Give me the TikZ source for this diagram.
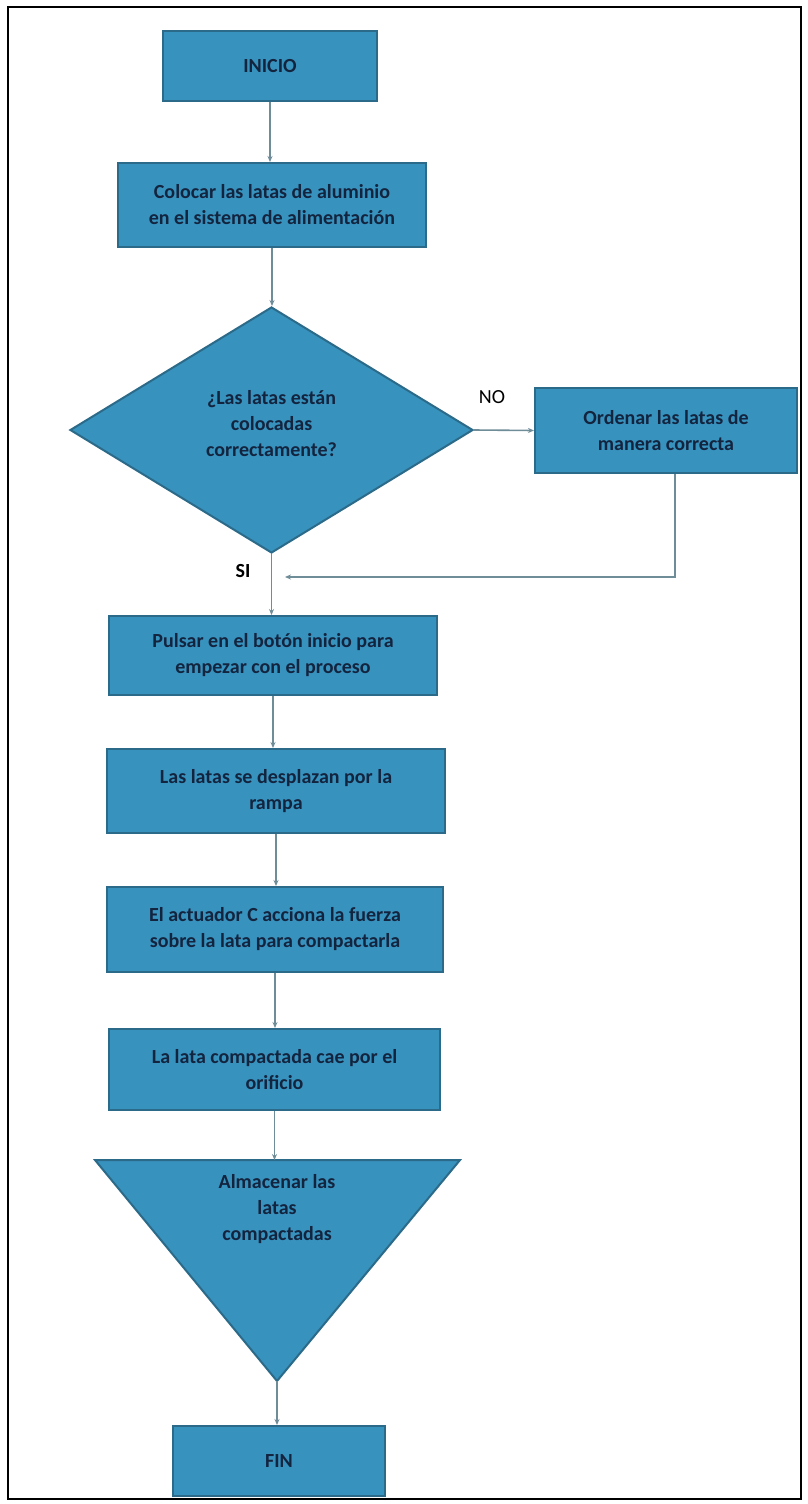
\documentclass[tikz,border=0pt]{standalone}
\usepackage{fontspec}
\setmainfont{Carlito}
\usetikzlibrary{shapes.geometric,arrows.meta,calc}
\definecolor{boxfill}{HTML}{3892BE}
\definecolor{boxdraw}{HTML}{2B6A88}
\definecolor{txt}{HTML}{13243F}
\definecolor{conn}{HTML}{6F8C99}
\tikzset{
  stepbox/.style={rectangle, draw=boxdraw, line width=2pt, fill=boxfill, text=txt,
    font=\fontsize{20}{26}\selectfont\bfseries, align=center, inner sep=0pt},
  decis/.style={diamond, draw=boxdraw, line width=2pt, fill=boxfill, inner sep=0pt},
  boxtext/.style={text=txt, font=\fontsize{20}{26}\selectfont\bfseries, align=center},
  arr/.style={draw=conn, line width=1.6pt, -{Stealth[length=6pt,width=5pt]}},
  lbl/.style={font=\fontsize{20}{26}\selectfont, text=black}
}
\begin{document}
\begin{tikzpicture}[x=1pt,y=-1pt]
\useasboundingbox (0,0) rectangle (808,1504);
\fill[white] (0,0) rectangle (808,1504);
\draw[black, line width=2.8pt] (8,7) rectangle (801,1499);

\node[stepbox, minimum width=214pt, minimum height=70pt] (inicio) at (270,66) {INICIO};
\node[stepbox, minimum width=308pt, minimum height=84pt] (colocar) at (272,205) {Colocar las latas de aluminio\\en el sistema de alimentación};
\node[decis, minimum width=403pt, minimum height=246pt] (dec) at (271.5,430) {};
\node[boxtext] (dectext) at (271.5,424) {¿Las latas están\\colocadas\\correctamente?};
\node[stepbox, minimum width=262pt, minimum height=85pt] (ordenar) at (666,430.5) {Ordenar las latas de\\manera correcta};
\node[stepbox, minimum width=328pt, minimum height=79pt] (pulsar) at (273,655.5) {Pulsar en el botón inicio para\\empezar con el proceso};
\node[stepbox, minimum width=338pt, minimum height=84pt] (rampa) at (276,791) {Las latas se desplazan por la\\rampa};
\node[stepbox, minimum width=336pt, minimum height=85pt] (actuador) at (275,929.5) {El actuador C acciona la fuerza\\sobre la lata para compactarla};
\node[stepbox, minimum width=331pt, minimum height=81pt] (orificio) at (274.5,1069.5) {La lata compactada cae por el\\orificio};

\coordinate (tritop) at (277,1160);
\coordinate (trileft) at (95,1160);
\coordinate (triright) at (460,1160);
\coordinate (triapex) at (277,1381);
\filldraw[draw=boxdraw, fill=boxfill, line width=2pt, line join=miter] (trileft) -- (triright) -- (triapex) -- cycle;
\node[boxtext] (almacenar) at (277,1209) {Almacenar las\\latas\\compactadas};

\node[stepbox, minimum width=212pt, minimum height=70pt] (fin) at (279,1461) {FIN};

\coordinate (merge) at (285,577);
\coordinate (fbturn) at (675,577);

\draw[arr] (inicio.south) -- (inicio.south |- colocar.north);
\draw[arr] (colocar.south) -- (colocar.south |- dec.north);
\draw[arr] (dec.east) -- (ordenar.west);
\draw[arr] (ordenar.south -| fbturn) -- (fbturn) -- (merge);
\draw[arr] (dec.south) -- (dec.south |- pulsar.north);
\draw[arr] (pulsar.south) -- (pulsar.south |- rampa.north);
\draw[arr] (rampa.south) -- (rampa.south |- actuador.north);
\draw[arr] (actuador.south) -- (actuador.south |- orificio.north);
\draw[arr] (orificio.south) -- (orificio.south |- tritop);
\draw[arr] (triapex) -- (triapex |- fin.north);

\node[lbl] (no) at (492,397) {NO};
\node[lbl, font=\fontsize{20}{26}\selectfont\bfseries] (si) at (243,571) {SI};
\end{tikzpicture}
\end{document}
